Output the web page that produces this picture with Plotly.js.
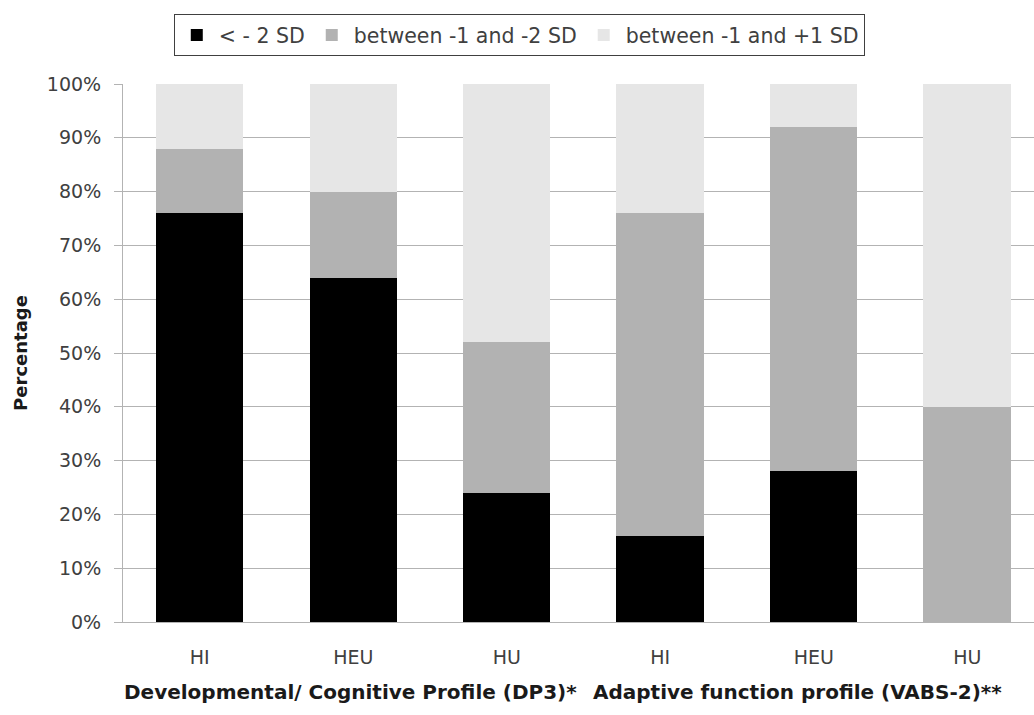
<!DOCTYPE html>
<html>
<head>
<meta charset="utf-8">
<script src="https://cdn.plot.ly/plotly-3.0.1.min.js"></script>
<style>html,body{margin:0;padding:0;background:#fff;}#chart{width:1034px;height:715px;}</style>
</head>
<body>
<div id="chart"></div>
<script>
// Data (percentages as fractions)
const categoryIndex = [0, 1, 2, 3, 4, 5];
const tickLabels = ['HI', 'HEU', 'HU', 'HI', 'HEU', 'HU'];
const groupLabels = ['Developmental/ Cognitive Profile (DP3)*', 'Adaptive function profile (VABS-2)**'];
const seriesNames = ['&lt; - 2 SD', 'between -1 and -2 SD', 'between -1 and +1 SD'];
const belowMinus2SD = [0.76, 0.64, 0.24, 0.16, 0.28, 0.00];
const betweenMinus1Minus2SD = [0.12, 0.16, 0.28, 0.60, 0.64, 0.40];
const betweenMinus1Plus1SD = [0.12, 0.20, 0.48, 0.24, 0.08, 0.60];

const colors = ['#000000', '#b2b2b2', '#e6e6e6'];
const seriesValues = [belowMinus2SD, betweenMinus1Minus2SD, betweenMinus1Plus1SD];
const FONT = 'DejaVu Sans, sans-serif';

const traces = seriesValues.map((vals, i) => ({
  type: 'bar',
  x: categoryIndex,
  y: vals,
  name: seriesNames[i],
  marker: {color: colors[i], line: {width: 0}},
  width: 0.57,
  hoverinfo: 'skip'
}));

const layout = {
  width: 1034,
  height: 715,
  margin: {l: 123, r: 0, t: 84, b: 93},
  paper_bgcolor: '#ffffff',
  plot_bgcolor: '#ffffff',
  barmode: 'stack',
  font: {family: FONT, size: 19, color: '#404040'},
  showlegend: true,
  legend: {
    orientation: 'h',
    x: 0.435, xanchor: 'center',
    y: 1.13, yanchor: 'top',
    bordercolor: '#404040', borderwidth: 1,
    font: {family: FONT, size: 20.5, color: '#404040'},
    traceorder: 'normal',
    itemwidth: 34,
    itemclick: false
  },
  xaxis: {
    range: [-0.5, 5.435],
    tickvals: categoryIndex,
    ticktext: tickLabels,
    showgrid: false,
    showline: true,
    linecolor: '#b3b3b3',
    linewidth: 1,
    ticks: '',
    ticklabelstandoff: 18,
    zeroline: false,
    fixedrange: true,
    tickfont: {family: FONT, size: 19, color: '#404040'}
  },
  yaxis: {
    range: [0, 1],
    dtick: 0.1,
    tick0: 0,
    tickformat: '.0%',
    showgrid: true,
    gridcolor: '#b3b3b3',
    gridwidth: 1,
    showline: true,
    linecolor: '#b3b3b3',
    ticks: 'outside',
    ticklen: 8,
    tickcolor: '#b3b3b3',
    ticklabelstandoff: 9,
    zeroline: false,
    fixedrange: true,
    tickfont: {family: FONT, size: 19, color: '#404040'},
    title: {text: '<b>Percentage</b>', font: {family: FONT, size: 18, color: '#1a1a1a'}, standoff: 14}
  },
  annotations: [
    {text: '<b>' + groupLabels[0] + '</b>', xref: 'paper', yref: 'paper', x: (350 - 123) / 911, y: -0.131, xanchor: 'center', yanchor: 'middle', showarrow: false, font: {family: FONT, size: 20, color: '#1a1a1a'}},
    {text: '<b>' + groupLabels[1] + '</b>', xref: 'paper', yref: 'paper', x: (797 - 123) / 911, y: -0.131, xanchor: 'center', yanchor: 'middle', showarrow: false, font: {family: FONT, size: 20, color: '#1a1a1a'}}
  ]
};

Plotly.newPlot('chart', traces, layout, {displayModeBar: false, staticPlot: true});
</script>
</body>
</html>
